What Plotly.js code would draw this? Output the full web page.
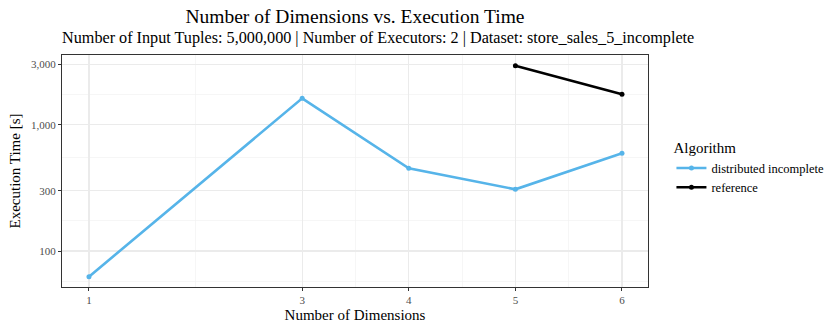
<!DOCTYPE html>
<html>
<head>
<meta charset="utf-8">
<script src="https://cdn.plot.ly/plotly-3.0.1.min.js"></script>
<style>
  html, body { margin: 0; padding: 0; background: #fff; }
  #chart { width: 830px; height: 332px; }
</style>
</head>
<body>
<div id="chart"></div>
<script>
var dims = [1, 3, 4, 5, 6];
var distIncomplete = [62.6, 1618, 452, 308, 594];
var refDims = [5, 6];
var refTimes = [2930, 1741];

var yTickVals = [100, 300, 1000, 3000];
var yTickText = ['100', '300', '1,000', '3,000'];
var yMinorVals = [57.7, 173.2, 547.7, 1732];
var xMinorVals = [2, 3.5, 4.5, 5.5];

var serif = 'Liberation Serif, Times New Roman, serif';

var trace1 = {
  x: dims,
  y: distIncomplete,
  mode: 'lines+markers',
  name: 'distributed incomplete',
  line: { color: '#56B4E9', width: 2.6 },
  marker: { color: '#56B4E9', size: 5 }
};

var trace2 = {
  x: refDims,
  y: refTimes,
  mode: 'lines+markers',
  name: 'reference',
  line: { color: '#000000', width: 2.6 },
  marker: { color: '#000000', size: 5 }
};

var layout = {
  width: 830,
  height: 332,
  margin: { l: 62, r: 182, t: 55, b: 45, autoexpand: false },
  paper_bgcolor: '#fff',
  plot_bgcolor: '#fff',
  font: { family: serif, color: '#000' },
  title: {
    text: 'Number of Dimensions vs. Execution Time',
    font: { family: serif, size: 19.5, color: '#000' },
    x: 0.5, xref: 'paper', xanchor: 'center',
    y: 0.95, yref: 'container', yanchor: 'middle'
  },
  annotations: [{
    text: 'Number of Input Tuples: 5,000,000 | Number of Executors: 2 | Dataset: store_sales_5_incomplete',
    xref: 'paper', yref: 'paper', x: 0, y: 1.0, yshift: 17, xshift: -2,
    xanchor: 'left', yanchor: 'middle', showarrow: false,
    font: { family: serif, size: 16.2, color: '#000' }
  }],
  xaxis: {
    title: { text: 'Number of Dimensions', font: { family: serif, size: 15, color: '#000' }, standoff: 4 },
    range: [0.747, 6.244],
    tickmode: 'array',
    tickvals: dims,
    ticktext: dims.map(String),
    tickfont: { family: serif, size: 11, color: '#4D4D4D' },
    ticks: 'outside', ticklen: 3, tickcolor: '#333', tickwidth: 1,
    showline: true, linecolor: '#333', linewidth: 1, mirror: true,
    showgrid: true, gridcolor: '#EBEBEB', gridwidth: 1.2,
    minor: { tickmode: 'array', tickvals: xMinorVals, showgrid: true, gridcolor: '#F2F2F2', gridwidth: 0.7, ticks: '' },
    zeroline: false
  },
  yaxis: {
    title: { text: 'Execution Time [s]', font: { family: serif, size: 15, color: '#000' }, standoff: 6 },
    type: 'log',
    range: [1.715, 3.552],
    tickmode: 'array',
    tickvals: yTickVals,
    ticktext: yTickText,
    tickfont: { family: serif, size: 11, color: '#4D4D4D' },
    ticks: 'outside', ticklen: 3, tickcolor: '#333', tickwidth: 1,
    showline: true, linecolor: '#333', linewidth: 1, mirror: true,
    showgrid: true, gridcolor: '#EBEBEB', gridwidth: 1.2,
    minor: { tickmode: 'array', tickvals: yMinorVals, showgrid: true, gridcolor: '#F2F2F2', gridwidth: 0.7, ticks: '' },
    zeroline: false
  },
  showlegend: true,
  legend: {
    x: 1.04, xanchor: 'left',
    y: 0.66, yanchor: 'top',
    title: { text: 'Algorithm', font: { family: serif, size: 15, color: '#000' } },
    font: { family: serif, size: 12.5, color: '#000' },
    itemwidth: 30,
    tracegroupgap: 0,
    bgcolor: 'rgba(0,0,0,0)'
  }
};

Plotly.newPlot('chart', [trace1, trace2], layout, { displayModeBar: false, staticPlot: true });
</script>
</body>
</html>
